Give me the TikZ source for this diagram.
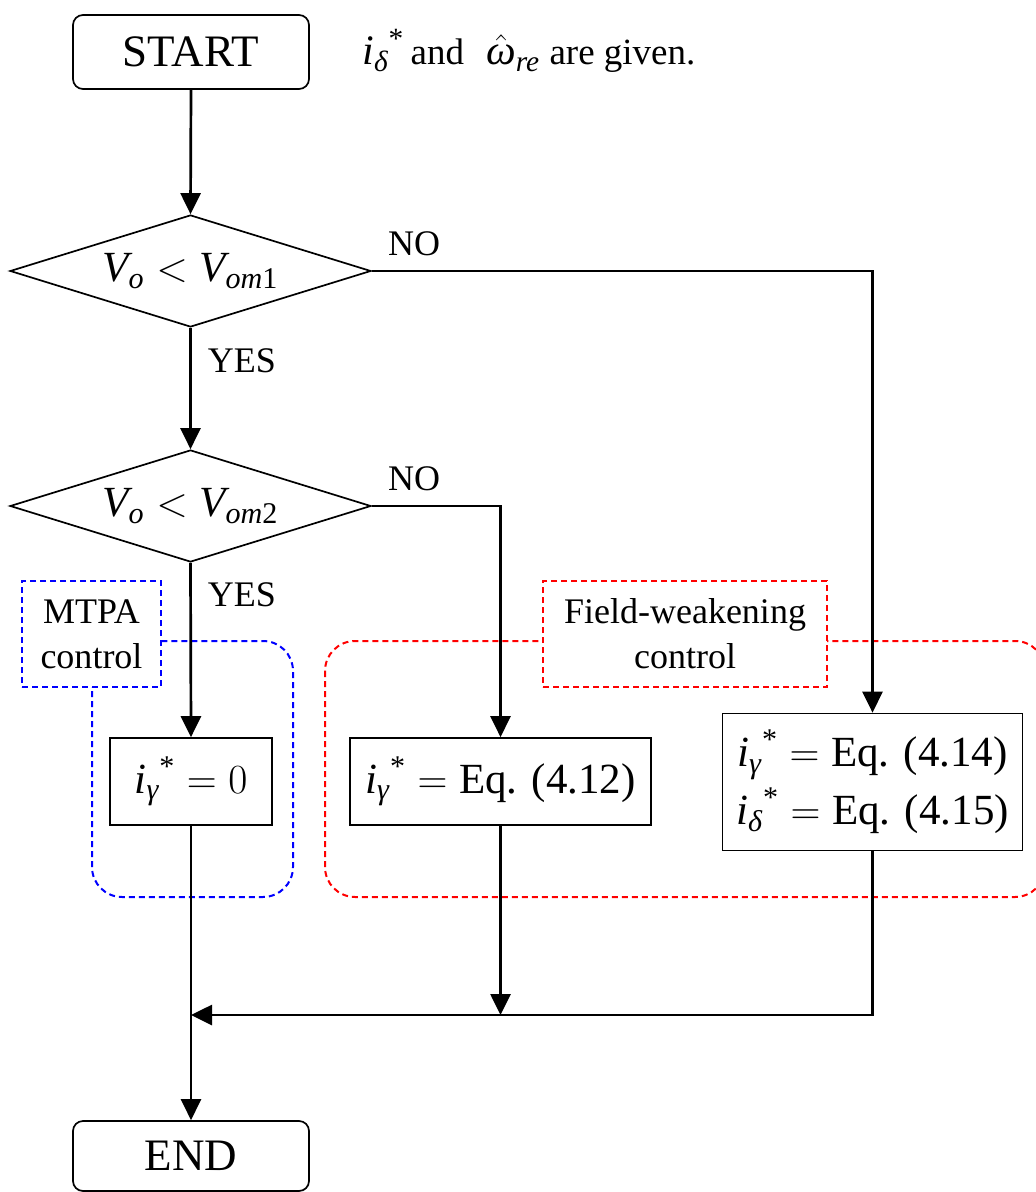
\documentclass[tikz,border=0pt]{standalone}
\usepackage{amsmath}
\usepackage{fontspec}
\setmainfont{Liberation Serif}
\usetikzlibrary{shapes.geometric,arrows.meta}
\newcommand{\mi}[1]{\textit{#1}}
\newcommand{\ist}[1]{{\mi{i}_{\mi{#1}}}^{\text{*}}}
\newcommand{\FBig}{\fontsize{21.5}{29}\selectfont}
\newcommand{\FTerm}{\fontsize{22.5}{29}\selectfont}
\newcommand{\FMid}{\fontsize{18}{22.5}\selectfont}
\newcommand{\FGiven}{\fontsize{18.5}{22}\selectfont}
\newcommand{\FGmath}{\fontsize{21}{22}\selectfont}
\begin{document}
\begin{tikzpicture}[x=0.5pt,y=-0.5pt,
  arr/.style={line width=1.35pt,-{Triangle[length=10.5pt,width=10pt]}},
  term/.style={draw,line width=0.85pt,rounded corners=5pt,minimum width=118pt,minimum height=37pt,inner sep=0pt,font=\FTerm},
  dec/.style={draw,diamond,line width=0.85pt,minimum width=180.5pt,minimum height=56pt,inner sep=0pt,aspect=3.2,font=\FBig},
  proc/.style={draw,line width=0.85pt,inner sep=0pt,font=\FBig,align=center},
  lbl/.style={font=\FMid,inner sep=0pt},
  region/.style={dash pattern=on 3pt off 2pt,line width=1pt,rounded corners=15pt},
  tag/.style={draw,dash pattern=on 3pt off 2pt,line width=1pt,fill=white,align=center,font=\FMid,inner sep=0pt}
]
\useasboundingbox (0,0) rectangle (1036,1192);
% grouping regions
\draw[region,blue] (92,641) rectangle (293,897);
\draw[region,red] (325,641) rectangle (1045,897);
\node[tag,draw=blue,minimum width=69.5pt,minimum height=53pt] (mtpa) at (91.5,634) {MTPA\\control};
\node[tag,draw=red,minimum width=142pt,minimum height=53pt] (fw) at (685,634) {Field-weakening\\control};
% nodes
\node[term] (start) at (191,52) {START};
\node[inner sep=0pt,anchor=base west,font=\FGiven] (given) at (362,65) {{\FGmath$\ist{δ}$}\,and\hspace{0.6em}{\FGmath$\hat{\mi{ω}}_{\mi{re}}$} are given.};
\node[dec] (d1) at (190.5,271) {$\mi{V}_{\mi{o}} < \mi{V}_{\mi{om}\text{1}}$};
\node[dec] (d2) at (190.5,506) {$\mi{V}_{\mi{o}} < \mi{V}_{\mi{om}\text{2}}$};
\node[proc,minimum width=81pt,minimum height=43.5pt] (b1) at (191,781.5) {$\ist{γ} = 0$};
\node[proc,minimum width=150.5pt,minimum height=43.5pt] (b2) at (500.5,781.5) {$\ist{γ} = \text{Eq. (4.12)}$};
\node[proc,minimum width=150pt,minimum height=68.5pt] (b3) at (872.5,782) {$\ist{γ} = \text{Eq. (4.14)}$\\$\ist{δ} = \text{Eq. (4.15)}$};
\node[term,minimum height=35pt] (end) at (191,1156) {END};
\coordinate (j2) at (500.5,1015);
\coordinate (j1) at (191,1015);
% labels
\node[lbl] (no1) at (414,244) {NO};
\node[lbl] (yes1) at (242,361) {YES};
\node[lbl] (no2) at (414,479) {NO};
\node[lbl] (yes2) at (242,595) {YES};
% connectors
\draw[arr] (start.south) -- (d1.north);
\draw[arr] (d1.east) -| (b3.north);
\draw[arr] (d1.south) -- (d2.north);
\draw[arr] (d2.east) -| (b2.north);
\draw[arr] (d2.south) -- (b1.north);
\draw[arr] (b1.south) -- (end.north);
\draw[arr] (b2.south) -- (j2);
\draw[arr] (b3.south) |- (j1);
\end{tikzpicture}
\end{document}
